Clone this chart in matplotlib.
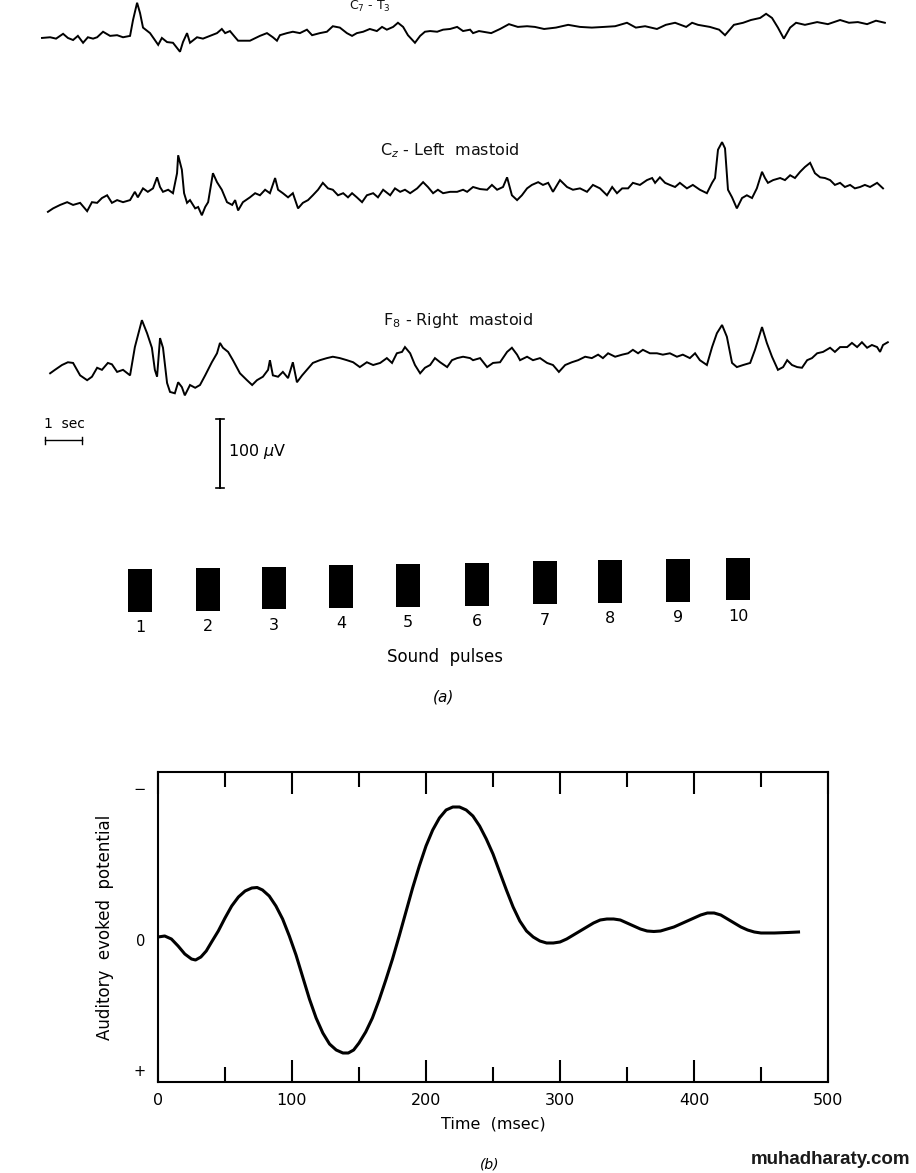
import numpy as np
import matplotlib
matplotlib.use("Agg")
import matplotlib.pyplot as plt

plt.rcParams['font.family'] = ['DejaVu Sans']

# ---- panel (a): EEG traces, time in sec, amplitude in uV ----
top_t = [0.00, 0.22, 0.38, 0.57, 0.70, 0.84, 0.97, 1.11, 1.24, 1.38, 1.49, 1.65, 1.84, 2.03, 2.19, 2.38,
         2.46, 2.57, 2.65, 2.73, 2.92, 3.05, 3.14, 3.24, 3.38, 3.54, 3.73, 3.81, 3.92, 4.00, 4.19, 4.35,
         4.54, 4.73, 4.86, 4.95, 5.08, 5.22, 5.30, 5.62, 5.89, 6.08, 6.24, 6.35, 6.43, 6.62, 6.78, 6.97,
         7.16, 7.30, 7.51, 7.70, 7.86, 8.05, 8.24, 8.38, 8.51, 8.68, 8.86, 9.05, 9.19, 9.32, 9.49, 9.62,
         9.76, 9.89, 10.08, 10.22, 10.35, 10.49, 10.68, 10.84, 11.03, 11.22, 11.38, 11.57, 11.65, 11.81,
         12.14, 12.38, 12.62, 12.86, 13.11, 13.32, 13.57, 13.89, 14.22, 14.54, 14.86, 15.19, 15.49, 15.81,
         16.05, 16.30, 16.62, 16.86, 17.11, 17.41, 17.57, 17.73, 18.05, 18.30, 18.46, 18.70, 18.95, 19.16,
         19.41, 19.57, 19.73, 19.89, 20.05, 20.22, 20.38, 20.62, 20.95, 21.24, 21.57, 21.81, 22.05, 22.30,
         22.54, 22.78]
top_uv = [0, 1, -1, 6, 0, -3, 3, -7, 1, -1, 1, 9, 3, 4, 1, 3,
          26, 51, 36, 15, 7, -3, -10, 0, -6, -7, -20, -6, 7, -7, 1, -1,
          3, 7, 13, 7, 10, 1, -4, -4, 3, 7, 1, -4, 4, 7, 9, 7,
          12, 4, 7, 9, 17, 15, 7, 3, 7, 9, 13, 10, 16, 12, 16, 22,
          16, 4, -7, 3, 9, 10, 9, 12, 13, 16, 10, 12, 7, 10,
          7, 13, 20, 16, 17, 16, 13, 15, 19, 16, 15, 16, 17, 22,
          15, 17, 13, 19, 22, 16, 22, 19, 16, 12, 4, 19, 22, 26,
          29, 35, 29, 15, -1, 15, 22, 19, 23, 20, 26, 22, 23, 20,
          25, 22]

mid_t = [0.16, 0.30, 0.49, 0.68, 0.84, 1.03, 1.22, 1.35, 1.49, 1.62, 1.76, 1.89, 2.03, 2.19, 2.38, 2.51,
         2.59, 2.73, 2.86, 3.00, 3.11, 3.19, 3.27, 3.41, 3.54, 3.65, 3.68, 3.78, 3.84, 3.92, 4.00, 4.14,
         4.22, 4.32, 4.41, 4.49, 4.62, 4.73, 4.86, 5.00, 5.14, 5.22, 5.30, 5.43, 5.62, 5.76, 5.89, 6.03,
         6.16, 6.30, 6.38, 6.51, 6.65, 6.78, 6.92, 7.05, 7.19, 7.32, 7.46, 7.59, 7.73, 7.86, 8.00, 8.14,
         8.27, 8.38, 8.51, 8.65, 8.78, 8.95, 9.08, 9.22, 9.41, 9.54, 9.68, 9.81, 9.95, 10.14, 10.30, 10.43,
         10.57, 10.70, 10.84, 11.03, 11.22, 11.38, 11.49, 11.65, 11.84, 12.03, 12.16, 12.30, 12.46, 12.57,
         12.70, 12.84, 12.97, 13.11, 13.24, 13.41, 13.54, 13.68, 13.81, 14.00, 14.19, 14.35, 14.54, 14.73,
         14.89, 15.08, 15.27, 15.41, 15.54, 15.68, 15.84, 15.97, 16.16, 16.35, 16.49, 16.57, 16.70, 16.84,
         16.97, 17.11, 17.24, 17.43, 17.59, 17.78, 17.97, 18.11, 18.19, 18.27, 18.38, 18.46, 18.54, 18.65,
         18.78, 18.92, 19.05, 19.19, 19.32, 19.46, 19.54, 19.62, 19.76, 19.95, 20.08, 20.22, 20.35, 20.49,
         20.62, 20.76, 20.89, 21.03, 21.16, 21.30, 21.43, 21.57, 21.70, 21.84, 21.97, 22.11, 22.24, 22.38,
         22.57, 22.73]
mid_uv = [-17, -12, -7, -3, -7, -4, -16, -3, -4, 3, 7, -4, 0, -3, 0, 12,
          4, 17, 12, 17, 33, 19, 12, 15, 10, 39, 65, 44, 10, -4, 0, -12,
          -10, -22, -10, -3, 39, 26, 15, -3, -7, 0, -15, -3, 4, 10, 7, 15,
          10, 32, 15, 10, 4, 10, -12, -4, 0, 7, 15, 25, 17, 15, 7, 10,
          4, 10, 4, -3, 7, 10, 4, 15, 7, 17, 12, 15, 10, 17, 26, 19,
          10, 15, 10, 12, 12, 15, 12, 19, 16, 15, 22, 15, 19, 33,
          7, 0, 7, 17, 22, 26, 22, 25, 12, 29, 19, 15, 17, 12,
          22, 17, 7, 19, 10, 17, 17, 25, 22, 29, 32, 25, 33, 25,
          22, 19, 25, 17, 22, 15, 10, 25, 32, 73, 84, 75, 15, 4,
          -12, 3, 7, 3, 17, 41, 32, 25, 29, 32, 29, 36, 32, 41,
          48, 54, 39, 33, 32, 29, 22, 25, 19, 22, 17, 19, 22, 19,
          25, 17]

bot_t = [0.22, 0.35, 0.54, 0.70, 0.84, 1.03, 1.22, 1.35, 1.49, 1.62, 1.78, 1.89, 2.03, 2.19, 2.38, 2.51,
         2.70, 2.84, 2.97, 3.05, 3.11, 3.19, 3.27, 3.38, 3.46, 3.59, 3.68, 3.78, 3.86, 4.00, 4.14, 4.27,
         4.41, 4.59, 4.73, 4.81, 4.89, 5.03, 5.16, 5.35, 5.54, 5.68, 5.81, 5.97, 6.11, 6.16, 6.24, 6.38,
         6.51, 6.65, 6.78, 6.89, 7.03, 7.16, 7.32, 7.51, 7.70, 7.86, 8.05, 8.24, 8.41, 8.59, 8.78, 8.95,
         9.14, 9.32, 9.46, 9.59, 9.73, 9.81, 9.95, 10.08, 10.22, 10.35, 10.49, 10.62, 10.76, 10.95, 11.08,
         11.22, 11.38, 11.57, 11.65, 11.84, 12.03, 12.19, 12.38, 12.57, 12.70, 12.84, 12.92, 13.11, 13.27,
         13.46, 13.65, 13.81, 13.97, 14.14, 14.32, 14.49, 14.68, 14.86, 15.03, 15.16, 15.30, 15.49, 15.68,
         15.84, 15.97, 16.11, 16.24, 16.43, 16.62, 16.78, 16.97, 17.16, 17.32, 17.51, 17.65, 17.78, 17.97,
         18.11, 18.24, 18.38, 18.51, 18.65, 18.78, 18.95, 19.14, 19.27, 19.46, 19.59, 19.73, 19.89, 20.03,
         20.14, 20.27, 20.41, 20.54, 20.68, 20.81, 20.95, 21.11, 21.30, 21.43, 21.57, 21.76, 21.89, 22.03,
         22.16, 22.30, 22.43, 22.57, 22.65, 22.73, 22.86]
bot_uv = [-12, -7, 0, 4, 3, -15, -22, -17, -4, -7, 3, 1, -10, -7, -15, 26,
          65, 46, 25, -7, -17, 39, 25, -26, -39, -41, -25, -32, -44, -29, -33, -29,
          -15, 4, 17, 32, 25, 19, 7, -12, -22, -29, -22, -17, -7, 7, -15, -17,
          -10, -19, 4, -25, -15, -7, 3, 7, 10, 12, 10, 7, 4, -3, 4, 0,
          3, 10, 3, 17, 19, 26, 17, 0, -12, -4, 0, 10, 4, -3, 7,
          10, 12, 10, 7, 10, -3, 3, 4, 19, 25, 15, 7, 12, 7,
          10, 3, 0, -10, 0, 4, 7, 12, 10, 15, 10, 17, 12, 15,
          17, 22, 17, 22, 17, 17, 15, 17, 12, 15, 10, 17, 7, 0,
          26, 46, 58, 41, 3, -3, 0, 3, 22, 55, 32, 12, -7, -3,
          7, 0, -3, -4, 7, 10, 17, 19, 25, 19, 26, 26, 32, 26,
          33, 25, 29, 26, 19, 29, 33]

pulse_t = [2.65, 4.49, 6.27, 8.08, 9.89, 11.76, 13.59, 15.35, 17.19, 18.81]
pulse_labels = ['1', '2', '3', '4', '5', '6', '7', '8', '9', '10']

# ---- panel (b): averaged auditory evoked potential (negative up) ----
aep_ms = [0, 5, 10, 15, 20, 25, 28, 32, 36, 40, 45, 50, 55, 60, 65, 70, 74, 78, 83, 88, 93, 98,
          103, 108, 113, 118, 123, 128, 133, 138, 142, 146, 150, 155, 160, 165, 170, 175, 180,
          185, 190, 195, 200, 205, 210, 215, 220, 225, 230, 235, 240, 245, 250, 255, 260, 265,
          270, 275, 280, 285, 290, 295, 300, 305, 310, 315, 320, 325, 330, 335, 340, 345, 350,
          355, 360, 365, 370, 375, 380, 385, 390, 395, 400, 405, 410, 415, 420, 425, 430, 435,
          440, 445, 450, 460, 470, 478]
aep_val = [-0.03, -0.04, -0.01, 0.06, 0.14, 0.19, 0.20, 0.17, 0.11, 0.02, -0.09, -0.22, -0.34,
           -0.43, -0.49, -0.52, -0.525, -0.50, -0.44, -0.34, -0.21, -0.04, 0.15, 0.37, 0.59, 0.78,
           0.93, 1.04, 1.10, 1.13, 1.13, 1.10, 1.03, 0.92, 0.78, 0.60, 0.40, 0.19, -0.04, -0.28,
           -0.52, -0.74, -0.94, -1.10, -1.22, -1.30, -1.33, -1.33, -1.30, -1.24, -1.14, -1.01,
           -0.86, -0.68, -0.50, -0.33, -0.19, -0.09, -0.03, 0.01, 0.03, 0.03, 0.02, -0.01, -0.05,
           -0.09, -0.13, -0.17, -0.20, -0.21, -0.21, -0.20, -0.17, -0.14, -0.11, -0.09, -0.085,
           -0.09, -0.11, -0.13, -0.16, -0.19, -0.22, -0.25, -0.27, -0.27, -0.25, -0.21, -0.17,
           -0.13, -0.10, -0.08, -0.07, -0.07, -0.075, -0.08]

W, H = 916, 1173
fig = plt.figure(figsize=(W / 100, H / 100), dpi=100)

# panel (a) axes: x in seconds, y in microvolts (1 s = 37 px, 100 uV = 69 px)
ax_a = fig.add_axes([0, 1 - 720 / H, 1, 720 / H])
ax_a.set_xlim(-42 / 37, (W - 42) / 37)
ax_a.set_ylim(-720 / 0.69, 0)
ax_a.axis('off')

offsets = [-55, -290, -529]
for t, uv, off in zip([top_t, mid_t, bot_t], [top_uv, mid_uv, bot_uv], offsets):
    ax_a.plot(t, np.array(uv) + off, color='k', lw=1.4, solid_joinstyle='miter')

txt = dict(ha='center', va='center', fontsize=11.5, color='#111111')
ax_a.text(8.86, -9, r'C$_7$ - T$_3$', fontsize=9, ha='center', va='center', color='#111111')
ax_a.text(11.03, -219, r'C$_z$ - Left  mastoid', **txt)
ax_a.text(11.24, -464, r'F$_8$ - Right  mastoid', **txt)

# scale bars
ax_a.plot([0.08, 1.08], [-638, -638], color='k', lw=1.0)
ax_a.plot([0.08, 0.08], [-633, -643], color='k', lw=1.0)
ax_a.plot([1.08, 1.08], [-633, -643], color='k', lw=1.0)
ax_a.text(0.6, -615, '1  sec', fontsize=10, ha='center', va='center')
ax_a.plot([4.81, 4.81], [-607, -707], color='k', lw=1.4)
ax_a.plot([4.70, 4.92], [-607, -607], color='k', lw=1.2)
ax_a.plot([4.70, 4.92], [-707, -707], color='k', lw=1.2)
ax_a.text(5.03, -654, '100 $\\mu$V', fontsize=11.5, ha='left', va='center')

# sound pulses (scan is slightly tilted)
tilt = np.linspace(0, 17, len(pulse_t))
ax_a.bar(pulse_t, 62, width=0.65, bottom=-887 + tilt, color='k')
for t, lab, d in zip(pulse_t, pulse_labels, tilt):
    ax_a.text(t, -910 + d, lab, fontsize=11.5, ha='center', va='center')
ax_a.text(10.9, -952, 'Sound  pulses', fontsize=12, ha='center', va='center')
ax_a.text(10.84, -1010, '(a)', fontsize=11, ha='center', va='center', style='italic')

# panel (b)
ax_b = fig.add_axes([158 / W, 1 - 1082 / H, 670 / W, 310 / H])
ax_b.plot(aep_ms, aep_val, color='k', lw=2.2)
ax_b.set_xlim(0, 500)
ax_b.set_ylim(1.42, -1.68)
for s in ax_b.spines.values():
    s.set_linewidth(1.5)
ax_b.set_xticks([0, 100, 200, 300, 400, 500])
ax_b.set_xticks([50, 150, 250, 350, 450], minor=True)
ax_b.tick_params(axis='x', which='major', direction='in', top=True, length=16, width=1.5,
                 labelsize=11.5, pad=8)
ax_b.tick_params(axis='x', which='minor', direction='in', top=True, length=11, width=1.5)
ax_b.set_yticks([-1.52, 0, 1.30])
ax_b.set_yticklabels(['\u2212', '0', '+'])
ax_b.tick_params(axis='y', length=0, labelsize=10.5, pad=9)
ax_b.set_xlabel('Time  (msec)', fontsize=11.5, labelpad=6)
ax_b.set_ylabel('Auditory  evoked  potential', fontsize=12, labelpad=14)

fig.text(490 / W, 1 - 1172 / H, '(b)', fontsize=10, ha='center', va='bottom', style='italic')
fig.text(910 / W, 1 - 1160 / H, 'muhadharaty.com', fontsize=13.5, fontweight='bold',
         ha='right', va='center', color='#1a1a1a', family='Liberation Sans')

fig.savefig('out.png', dpi=100)
